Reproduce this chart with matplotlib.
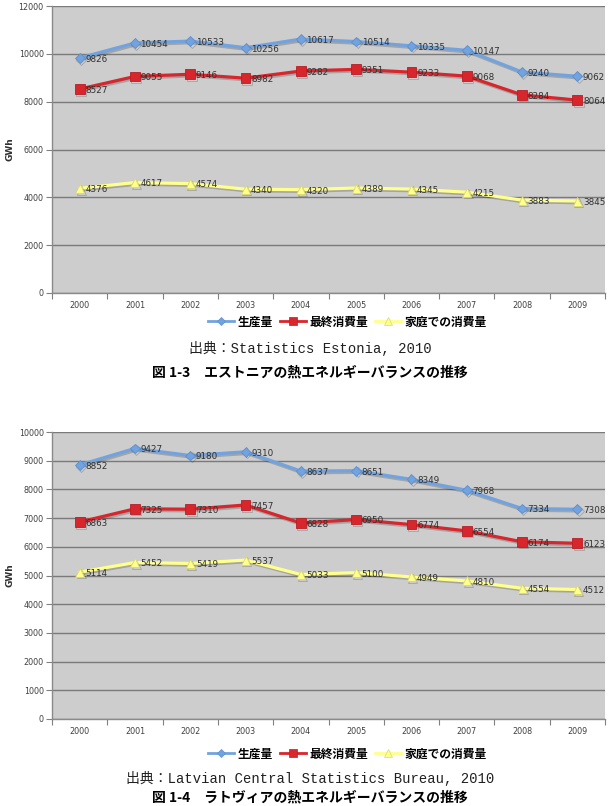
import matplotlib
matplotlib.use("Agg")
import matplotlib.pyplot as plt
import matplotlib.patheffects as pe
from matplotlib.lines import Line2D

years = ["2000", "2001", "2002", "2003", "2004", "2005", "2006", "2007", "2008", "2009"]
series_names = ["生産量", "最終消費量", "家庭での消費量"]

est_production = [9826, 10454, 10533, 10256, 10617, 10514, 10335, 10147, 9240, 9062]
est_final = [8527, 9055, 9146, 8982, 9282, 9351, 9233, 9068, 8284, 8064]
est_household = [4376, 4617, 4574, 4340, 4320, 4389, 4345, 4215, 3883, 3845]

lat_production = [8852, 9427, 9180, 9310, 8637, 8651, 8349, 7968, 7334, 7308]
lat_final = [6863, 7325, 7310, 7457, 6828, 6950, 6774, 6554, 6174, 6123]
lat_household = [5114, 5452, 5419, 5537, 5033, 5100, 4949, 4810, 4554, 4512]

est_yticks = [0, 2000, 4000, 6000, 8000, 10000, 12000]
lat_yticks = [0, 1000, 2000, 3000, 4000, 5000, 6000, 7000, 8000, 9000, 10000]

caption1 = "出典：Statistics Estonia, 2010"
title1 = "図 1-3　エストニアの熱エネルギーバランスの推移"
caption2 = "出典：Latvian Central Statistics Bureau, 2010"
title2 = "図 1-4　ラトヴィアの熱エネルギーバランスの推移"

colors = ["#72A3DE", "#D8262D", "#FFFF8C"]
edge_colors = ["#5B8FD0", "#B81E24", "#D8D870"]
markers = ["D", "s", "^"]
msizes = [5, 7, 6.5]

W, H = 615, 806
fig = plt.figure(figsize=(W / 100, H / 100), dpi=100)
fig.patch.set_facecolor("white")

CJK = ["Noto Sans CJK JP", "DejaVu Sans"]
SERIF = ["Liberation Mono", "Noto Sans CJK JP"]


def draw_chart(top_px, bottom_px, ymax, yticks, data, legend_y, cap_y, cap, tit_y, tit):
    left_px, right_px = 52, 605
    ax = fig.add_axes([left_px / W, 1 - bottom_px / H,
                       (right_px - left_px) / W, (bottom_px - top_px) / H])
    ax.set_facecolor("#CDCDCD")
    x = list(range(len(years)))
    for i, vals in enumerate(data):
        ax.plot(x, vals, color=colors[i], lw=2.3, marker=markers[i], ms=msizes[i],
                mfc=colors[i], mec=edge_colors[i], mew=0.6, zorder=3,
                path_effects=[pe.SimpleLineShadow(offset=(1, -1.2), alpha=0.2),
                              pe.Normal()])
        for xi, v in zip(x, vals):
            ax.annotate(str(v), (xi, v), xytext=(4, -1), textcoords="offset points",
                        ha="left", va="center", fontsize=6.3, color="#303030", zorder=4)
    ax.set_xlim(-0.5, len(years) - 0.5)
    ax.set_ylim(0, ymax)
    ax.set_yticks(yticks)
    ax.set_yticklabels([str(t) for t in yticks], fontsize=5.8, color="#404040")
    ax.set_xticks(x)
    ax.set_xticklabels(years, fontsize=5.8, color="#404040")
    ax.set_xticks([i - 0.5 for i in range(len(years) + 1)], minor=True)
    ax.tick_params(axis="x", which="major", length=0, pad=6)
    ax.tick_params(axis="x", which="minor", length=4, color="#808080", width=0.8)
    ax.tick_params(axis="y", length=4, color="#808080", width=0.8, pad=2)
    ax.grid(axis="y", color="#7A7A7A", lw=1.0, zorder=1)
    ax.set_axisbelow(True)
    for s in ["top", "right"]:
        ax.spines[s].set_visible(False)
    for s in ["left", "bottom"]:
        ax.spines[s].set_color("#8A8A8A")
        ax.spines[s].set_linewidth(1.0)
    ax.set_ylabel("GWh", fontsize=6.5, fontweight="bold", color="#303030", labelpad=3)

    handles = [Line2D([0], [0], color=colors[i], lw=2, marker=markers[i],
                      ms=msizes[i] * 0.8, mfc=colors[i], mec=edge_colors[i], mew=0.5)
               for i in range(3)]
    fig.legend(handles, series_names, loc="center", bbox_to_anchor=(0.565, legend_y),
               ncol=3, frameon=False, handlelength=2.2, handletextpad=0.3,
               columnspacing=0.6, prop={"family": CJK, "size": 8.5, "weight": "bold"})
    fig.text(0.504, cap_y, cap, ha="center", va="center", fontsize=10,
             family=SERIF, color="#202020")
    fig.text(0.504, tit_y, tit, ha="center", va="center", fontsize=10,
             family=CJK, fontweight="bold", color="#000000")
    return ax


draw_chart(6, 293, 12000, est_yticks, [est_production, est_final, est_household],
           1 - 322 / H, 1 - 348 / H, caption1, 1 - 372 / H, title1)
draw_chart(432, 719, 10000, lat_yticks, [lat_production, lat_final, lat_household],
           1 - 754 / H, 1 - 778 / H, caption2, 1 - 797 / H, title2)

fig.savefig("out.png", dpi=100, facecolor="white")
